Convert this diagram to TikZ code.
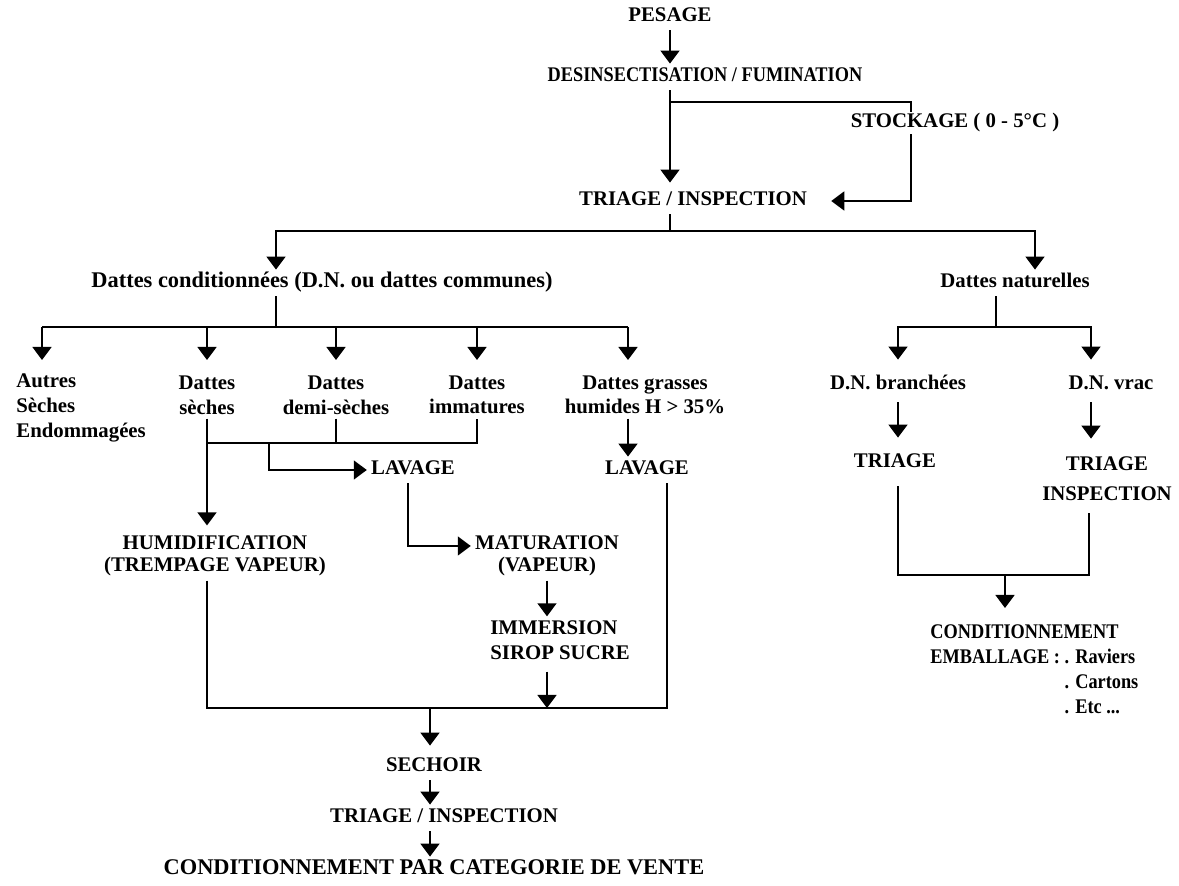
\documentclass[tikz,border=0pt]{standalone}
\usepackage{fontspec}
\setmainfont{Liberation Serif}
\newfontfamily\narrowserif{Liberation Serif}[FakeStretch=0.88]
\usetikzlibrary{arrows.meta,calc}

\begin{document}
\begin{tikzpicture}[
    x=0.5pt, y=-0.5pt,
    >={Triangle[width=9.5pt,length=6.5pt]},
    every node/.style={font=\bfseries\fontsize{10.4}{12.3}\selectfont, inner sep=2pt},
    stage/.style={text height=7pt, text depth=2pt},
    multi/.style={align=center},
    narrow/.style={font=\narrowserif\bfseries\fontsize{10.4}{12.5}\selectfont},
    flow/.style={line width=0.75pt},
    arr/.style={flow, ->},
]
\useasboundingbox (0,0) rectangle (1179,886);

% === Main line ===
\node[stage] (pesage) at (670,17) {PESAGE};
\node[stage, narrow] (des) at (705,77) {DESINSECTISATION / FUMINATION};
\node[stage] (triage1) at (693,201) {TRIAGE / INSPECTION};

\draw[arr] (pesage.south) -- (pesage.south |- des.north);
\draw[arr] (pesage.south |- des.south) -- ([yshift=2.5pt]pesage.south |- triage1.north);

% stockage loop
\coordinate (stockturn) at (911,102);
\draw[arr] (pesage.south |- stockturn) -- (stockturn) -- (stockturn |- triage1) -- ([xshift=10pt]triage1.east);
\node[stage, fill=white, inner ysep=1pt] (stock) at (955,123) {STOCKAGE ( 0 - 5°C )};

% === Two families ===
\node[stage, font=\bfseries\fontsize{11.2}{13}\selectfont] (dcond) at (322,283) {Dattes conditionnées (D.N. ou dattes communes)};
\node[stage] (dnat) at (1015,283) {Dattes naturelles};

\coordinate (splitL) at (276,231);
\coordinate (splitR) at (1035,231);
\draw[flow] (pesage.south |- triage1.south) -- (pesage.south |- splitL);
\draw[arr] (pesage.south |- splitL) -- (splitL) -- (splitL |- dcond.north);
\draw[arr] (pesage.south |- splitR) -- (splitR) -- (splitR |- dnat.north);

% === Dattes conditionnees: categories ===
\node[multi, anchor=west, align=left] (autres) at (12,408) {Autres\\Sèches\\Endommagées};
\node[multi] (dseches) at (207,395) {Dattes\\sèches};
\node[multi] (ddemi) at (336,395) {Dattes\\demi-sèches};
\node[multi] (dimm) at (477,395) {Dattes\\immatures};
\node[multi] (dgrasses) at (645,395) {Dattes grasses\\humides H > 35\%};

\coordinate (rowL) at (42,327);
\coordinate (rowR) at (628,327);
\coordinate (rowtip) at (0,360);
\draw[flow] (splitL |- dcond.south) -- (splitL |- rowL);
\draw[flow] (rowL) -- (rowR);
\draw[arr] (rowL) -- (rowL |- rowtip);
\draw[arr] (rowR) -- (rowR |- rowtip);
\foreach \n in {dseches, ddemi, dimm}
    \draw[arr] (rowL -| \n) -- (\n |- rowtip);

% lavage / humidification
\node[stage] (lavage1) at (413,470) {LAVAGE};
\node[stage] (lavage2) at (647,470) {LAVAGE};
\node[multi] (humid) at (215,556) {HUMIDIFICATION\\[-1.2pt](TREMPAGE VAPEUR)};
\node[multi] (matur) at (547,556) {MATURATION\\[-1.2pt](VAPEUR)};
\node[multi, anchor=west, align=left] (immers) at (486,640) {IMMERSION\\SIROP SUCRE};

\coordinate (lavjoin) at (269,443);
\draw[arr] (dseches.south) -- ([yshift=3pt]dseches.south |- humid.north);
\draw[flow] (dseches.south |- lavjoin) -- (dimm.south |- lavjoin) -- (dimm.south);
\draw[flow] (ddemi.south) -- (ddemi.south |- lavjoin);
\draw[arr] (lavjoin) -- (lavjoin |- lavage1) -- (lavage1.west);
\draw[arr] (rowR |- dgrasses.south) -- (rowR |- lavage2.north);
\draw[arr] ([xshift=-2.5pt]lavage1.south) |- ([yshift=5pt]matur.west);
\draw[arr] (matur.south) -- (matur.south |- immers.north);

% === Merge and end ===
\node[stage] (sechoir) at (434,767) {SECHOIR};
\node[stage] (triage4) at (444,818) {TRIAGE / INSPECTION};
\node[stage, font=\bfseries\fontsize{11.2}{13}\selectfont] (condvente) at (434,870) {CONDITIONNEMENT PAR CATEGORIE DE VENTE};

\coordinate (merge) at (430,708);
\coordinate (mergeR) at (667,708);
\draw[flow] (dseches.south |- humid.south) -- (dseches.south |- merge) -- (mergeR) -- (mergeR |- lavage2.south);
\draw[arr] ([yshift=-4pt]matur.south |- immers.south) -- (matur.south |- merge);
\draw[arr] (merge) -- ([yshift=4pt]merge |- sechoir.north);
\draw[arr] (merge |- sechoir.south) -- (merge |- triage4.north);
\draw[arr] (merge |- triage4.south) -- (merge |- condvente.north);

% === Dattes naturelles ===
\node[stage] (dnbr) at (898,385) {D.N. branchées};
\node[stage] (dnvrac) at (1111,385) {D.N. vrac};
\node[stage] (triage2) at (895,463) {TRIAGE};
\node[multi] (triage3) at (1107,479) {TRIAGE\\[2.7pt]INSPECTION};
\node[narrow, anchor=north west, align=left] (condemb) at (926,620)
    {CONDITIONNEMENT\\EMBALLAGE : . Raviers\\\hphantom{EMBALLAGE : }. Cartons\\\hphantom{EMBALLAGE : }. Etc ...};

\coordinate (natsplit) at (996,327);
\coordinate (natjoin) at (1005,575);
\draw[flow] (natsplit |- dnat.south) -- (natsplit);
\draw[arr] (natsplit) -| ([yshift=6pt]dnbr.north);
\draw[arr] (natsplit) -| ([xshift=-10pt,yshift=6pt]dnvrac.north);
\draw[arr] ([yshift=-2pt]dnbr.south) -- ([yshift=6pt]dnbr.south |- triage2.north);
\draw[arr] ([xshift=-10pt,yshift=-2pt]dnvrac.south) -- ([xshift=-10pt,yshift=7pt]dnvrac.south |- triage3.north);
\draw[flow] ([yshift=-5pt]dnbr.south |- triage2.south) -- (dnbr.south |- natjoin) -- ([xshift=-9pt]triage3.south |- natjoin) -- ([xshift=-9pt,yshift=-4pt]triage3.south);
\draw[arr] (natjoin) -- ([yshift=6pt]natjoin |- condemb.north);

\end{tikzpicture}
\end{document}
